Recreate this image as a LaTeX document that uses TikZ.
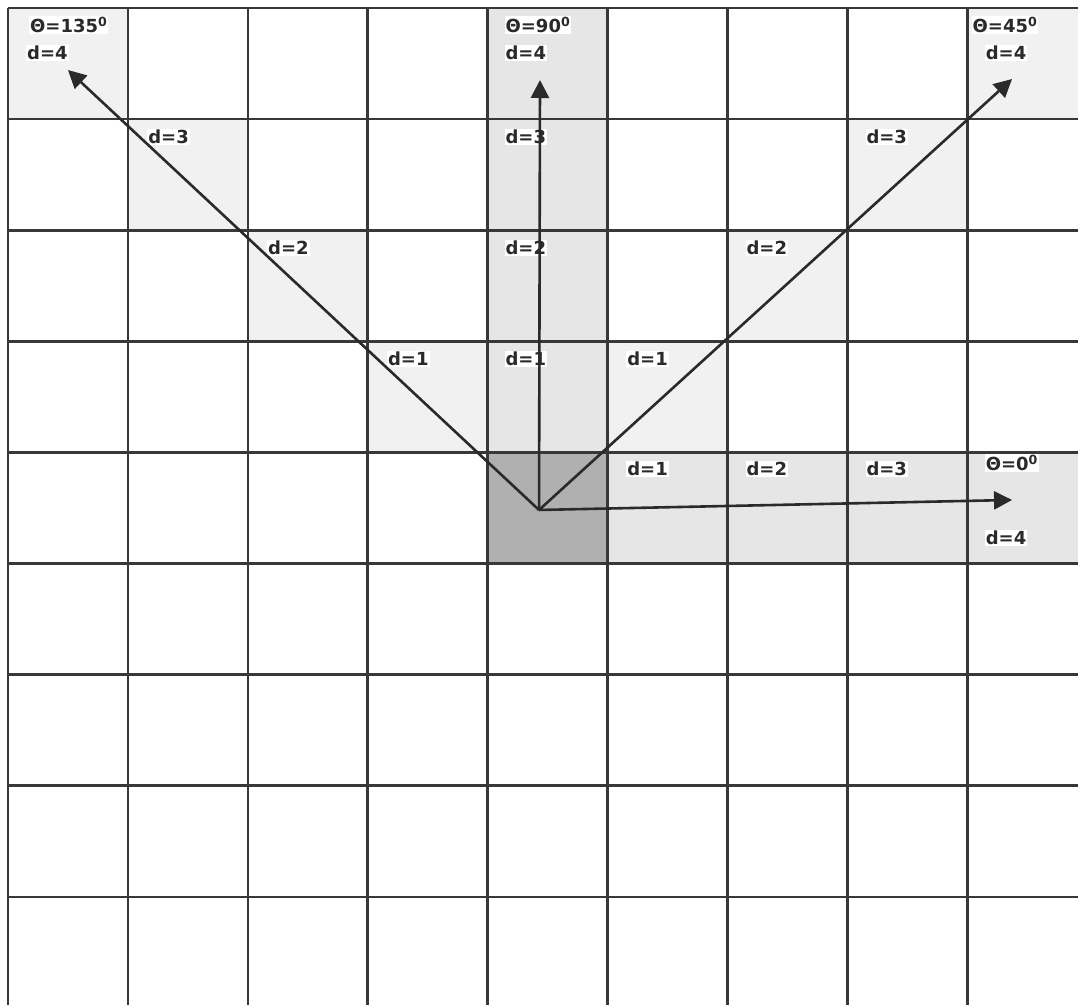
\documentclass[tikz,border=0pt]{standalone}
\usepackage{fontspec}
\setmainfont{DejaVu Sans}
\usetikzlibrary{arrows.meta}
\definecolor{gridline}{HTML}{383838}
\definecolor{cellpale}{HTML}{F1F1F1}
\definecolor{cellmid}{HTML}{E6E6E6}
\definecolor{celldark}{HTML}{B0B0B0}
\definecolor{ink}{HTML}{2A2A2A}

\begin{document}
\begin{tikzpicture}[x=119.9pt, y=-111.1pt,
   lbl/.style={fill=white, inner sep=1pt, anchor=west, text=ink, font=\fontsize{18}{21}\selectfont\bfseries},
   vec/.style={line width=2.6pt, draw=ink, -{Triangle[length=18pt, width=18pt]}}]
   \clip (-0.0667,-0.072) rectangle (8.924,8.973);
   \fill[white] (-0.0667,-0.072) rectangle (8.924,8.973);

   % shaded cells
   \foreach \c/\r in {0/0, 1/1, 2/2, 3/3, 5/3, 6/2, 7/1, 8/0}
      \fill[cellpale] (\c,\r) rectangle ++(1,1);
   \foreach \r in {0,...,3}
      \fill[cellmid] (4,\r) rectangle ++(1,1);
   \foreach \c in {5,...,8}
      \fill[cellmid] (\c,4) rectangle ++(1,1);
   \fill[celldark] (4,4) rectangle ++(1,1);

   % grid
   \foreach \i in {0,...,8} {
      \draw[gridline, line width=2.6pt] (\i,0) -- (\i,8.973);
      \draw[gridline, line width=2.6pt] (0,\i) -- (8.924,\i);
   }

   % labels
   \node[lbl] (th135) at (0.175,0.153) {Θ=135\textsuperscript{0}};
   \node[lbl] (d135) at (0.15,0.405) {d=4};
   \node[lbl] (th90) at (4.14,0.153) {Θ=90\textsuperscript{0}};
   \node[lbl] (d90) at (4.14,0.405) {d=4};
   \node[lbl] (th45) at (8.035,0.153) {Θ=45\textsuperscript{0}};
   \node[lbl] (d45) at (8.145,0.405) {d=4};
   \node[lbl] (th0) at (8.145,4.096) {Θ=0\textsuperscript{0}};
   \node[lbl] (d0) at (8.145,4.77) {d=4};
   \foreach \x/\y/\t in {1.16/1.161/3, 4.14/1.161/3, 7.15/1.161/3,
                         2.16/2.16/2, 4.14/2.16/2, 6.15/2.16/2,
                         3.16/3.16/1, 4.14/3.16/1, 5.155/3.16/1,
                         5.155/4.15/1, 6.15/4.15/2, 7.15/4.15/3}
      \node[lbl] at (\x,\y) {d=\t};

   % vectors
   \coordinate (o) at (4.429,4.518);
   \coordinate (t135) at (0.50,0.558);
   \coordinate (t90) at (4.437,0.648);
   \coordinate (t45) at (8.374,0.639);
   \coordinate (t0) at (8.374,4.428);
   \foreach \t in {t135, t90, t45, t0}
      \draw[vec] (o) -- (\t);
\end{tikzpicture}
\end{document}
